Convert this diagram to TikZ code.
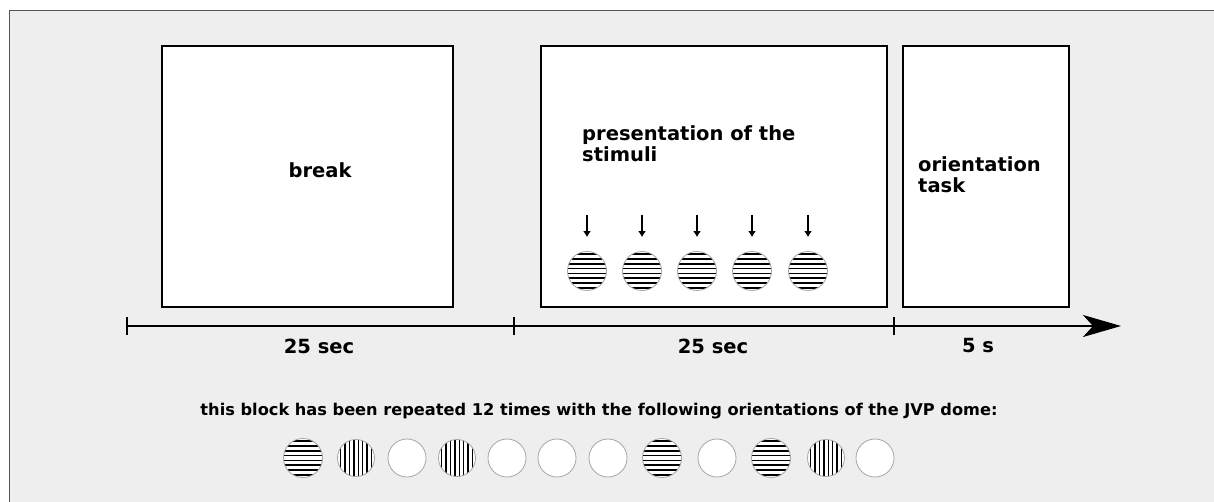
\documentclass[tikz,border=0pt]{standalone}
\usepackage{fontspec}
\setmainfont{DejaVu Sans}
\usetikzlibrary{arrows.meta,calc}
\definecolor{panel}{HTML}{EEEEEE}
\definecolor{frameline}{HTML}{555555}
\tikzset{
  stage/.style={draw=black, line width=2pt, fill=white},
  lbl/.style={font=\bfseries\fontsize{19.5}{21}\selectfont, inner sep=0pt},
  small/.style={font=\bfseries\fontsize{16.2}{19}\selectfont, inner sep=0pt},
  tick/.style={line width=1.8pt},
  disk/.style={circle, draw=gray!70, line width=0.8pt, fill=white, inner sep=0pt, minimum size=38pt},
  hstripes/.style={disk, minimum size=39pt, path picture={
      \foreach \k in {-3.5,-2.5,...,3.5}
        \draw[draw=black, line width=1.6pt] ([yshift=\k*4.8pt]path picture bounding box.west) -- ++(45,0);}},
  vstripes/.style={disk, minimum size=37pt, path picture={
      \foreach \k in {-3.5,-2.5,...,3.5}
        \draw[draw=black, line width=1.4pt] ([xshift=\k*4.4pt]path picture bounding box.north) -- ++(0,45);}},
  cue/.style={line width=1.3pt, -{Latex[length=6pt,width=8pt]}},
}
\begin{document}
\begin{tikzpicture}[x=1pt,y=-1pt]
\useasboundingbox (0,0) rectangle (1214,502);
% light panel with grey border
\path[fill=panel, draw=frameline, line width=1.5pt] (9.5,10.5) rectangle (1240,530);

% the three stages of a block
\node[stage, minimum width=291pt, minimum height=261pt] (brk) at (307.5,176.5) {};
\node[stage, minimum width=346pt, minimum height=261pt] (pres) at (714,176.5) {};
\node[stage, minimum width=166pt, minimum height=261pt] (task) at (986,176.5) {};

\node[lbl] (brkl) at (320,170) {break};
\node[lbl, align=left, anchor=west] (presl) at (582,144) {presentation of the\\stimuli};
\node[lbl, align=left, anchor=west] (taskl) at (918,175) {orientation\\task};

% stimuli with cue arrows
\foreach \i/\x in {1/587,2/642,3/697,4/752,5/808}{
  \node[hstripes] (s\i) at (\x,271) {};
  \coordinate (c\i) at (\x,215);
  \draw[cue, shorten >=14pt] (c\i) -- (s\i.north);
}

% time axis
\coordinate (t0) at (127,326);
\coordinate (t1) at (514,326);
\coordinate (t2) at (894,326);
\coordinate (tend) at (1121,326);
\draw[line width=1.8pt, -{Stealth[length=38pt,width=22pt,inset=10pt]}] (t0) -- (tend);
\foreach \t in {t0,t1,t2}
  \draw[tick] ($(\t)+(0,-9)$) -- ($(\t)+(0,9)$);

\node[lbl] (d1) at (319,346) {25 sec};
\node[lbl] (d2) at (713,346) {25 sec};
\node[lbl] (d3) at (978,346) {5 s};

\node[small] (note) at (599,411) {this block has been repeated 12 times with the following orientations of the JVP dome:};

% orientation sequence
\foreach \i/\x/\s in {1/303/hstripes,2/356/vstripes,3/407/disk,4/457/vstripes,5/507/disk,6/557/disk,
                     7/608/disk,8/662/hstripes,9/717/disk,10/771/hstripes,11/826/vstripes,12/875/disk}
  \node[\s] (o\i) at (\x,458) {};
\end{tikzpicture}
\end{document}
